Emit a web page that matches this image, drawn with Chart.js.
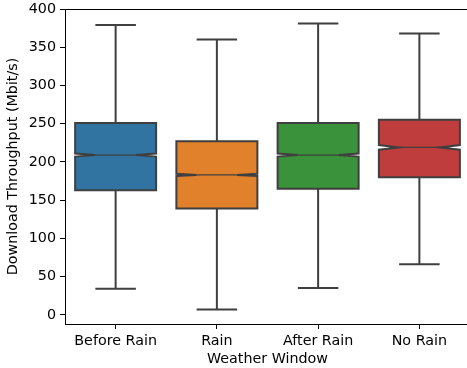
<!DOCTYPE html>
<html>
<head>
<meta charset="utf-8">
<script src="https://cdn.jsdelivr.net/npm/chart.js@4/dist/chart.umd.min.js"></script>
<style>
  body { margin: 0; background: #fff; overflow: hidden; }
  #wrap { width: 470px; height: 368px; }
</style>
</head>
<body>
<div id="wrap"><canvas id="chart" width="470" height="368"></canvas></div>
<script>
// box stats (Mbit/s)
const categories = ['Before Rain', 'Rain', 'After Rain', 'No Rain'];
const whiskerLow = [34, 7, 35, 66];
const q1 = [163, 139, 165, 180];
const median = [209, 183, 209, 219];
const q3 = [251, 227, 251, 255];
const whiskerHigh = [379, 360, 381, 368];
const ciLow = [207, 181.5, 207, 216];
const ciHigh = [211, 184.5, 211, 222];
const colors = ['#3274a1', '#e1812c', '#3a923a', '#c03d3e'];
const yTicks = [0, 50, 100, 150, 200, 250, 300, 350, 400];

const FONT = { family: 'DejaVu Sans', size: 14.3 };
const LINE = '#3f3f3f';

const boxPlot = {
  id: 'boxPlot',
  afterDatasetsDraw(chart) {
    const ctx = chart.ctx;
    const x = chart.scales.x;
    const y = chart.scales.y;
    const step = x.getPixelForValue(1) - x.getPixelForValue(0);
    const w = step * 0.8;
    ctx.save();
    ctx.strokeStyle = LINE;
    ctx.lineWidth = 2;
    categories.forEach((c, i) => {
      const cx = x.getPixelForValue(i);
      const L = cx - w / 2, R = cx + w / 2;
      const capL = cx - w / 4, capR = cx + w / 4;

      // whiskers + caps
      ctx.beginPath();
      ctx.moveTo(cx, y.getPixelForValue(q3[i]));
      ctx.lineTo(cx, y.getPixelForValue(whiskerHigh[i]));
      ctx.moveTo(capL, y.getPixelForValue(whiskerHigh[i]));
      ctx.lineTo(capR, y.getPixelForValue(whiskerHigh[i]));
      ctx.moveTo(cx, y.getPixelForValue(q1[i]));
      ctx.lineTo(cx, y.getPixelForValue(whiskerLow[i]));
      ctx.moveTo(capL, y.getPixelForValue(whiskerLow[i]));
      ctx.lineTo(capR, y.getPixelForValue(whiskerLow[i]));
      ctx.stroke();

      // notched box
      const yq1 = y.getPixelForValue(q1[i]);
      const yq3 = y.getPixelForValue(q3[i]);
      const ylo = y.getPixelForValue(ciLow[i]);
      const yhi = y.getPixelForValue(ciHigh[i]);
      const ym = y.getPixelForValue(median[i]);
      ctx.beginPath();
      ctx.moveTo(L, yq1);
      ctx.lineTo(R, yq1);
      ctx.lineTo(R, ylo);
      ctx.lineTo(capR, ym);
      ctx.lineTo(R, yhi);
      ctx.lineTo(R, yq3);
      ctx.lineTo(L, yq3);
      ctx.lineTo(L, yhi);
      ctx.lineTo(capL, ym);
      ctx.lineTo(L, ylo);
      ctx.closePath();
      ctx.fillStyle = colors[i];
      ctx.fill();
      ctx.stroke();

      // median
      ctx.save();
      ctx.lineWidth = 1.2;
      ctx.beginPath();
      ctx.moveTo(capL, ym);
      ctx.lineTo(capR, ym);
      ctx.stroke();
      ctx.restore();
    });

    // top spine
    const a = chart.chartArea;
    ctx.strokeStyle = '#000';
    ctx.lineWidth = 1;
    ctx.beginPath();
    ctx.moveTo(a.left, a.top + 0.5);
    ctx.lineTo(a.right, a.top + 0.5);
    ctx.stroke();
    ctx.restore();
  }
};

new Chart(document.getElementById('chart'), {
  type: 'bar',
  data: {
    labels: categories,
    datasets: [{
      label: 'Download Throughput',
      data: categories.map((c, i) => [q1[i], q3[i]]),
      backgroundColor: 'rgba(0,0,0,0)',
      borderWidth: 0
    }]
  },
  options: {
    responsive: false,
    animation: false,
    layout: { padding: { top: 9, right: 0, left: 0, bottom: 0 } },
    plugins: { legend: { display: false }, tooltip: { enabled: false } },
    scales: {
      x: {
        offset: true,
        grid: { offset: false, drawOnChartArea: false, drawTicks: true, tickLength: 5, color: '#000' },
        border: { display: true, color: '#000', width: 1 },
        ticks: { color: '#000', font: FONT, padding: 4, maxRotation: 0 },
        title: { display: true, text: 'Weather Window', color: '#000', font: FONT, padding: { top: 0, bottom: 0 } },
        afterFit(s) { s.height = 44; s.paddingLeft = 0; s.paddingRight = 0; }
      },
      y: {
        min: -12,
        max: 400,
        grid: { drawOnChartArea: false, drawTicks: true, tickLength: 5, color: '#000' },
        border: { display: true, color: '#000', width: 1 },
        ticks: { color: '#000', font: FONT, padding: 4 },
        afterBuildTicks(s) { s.ticks = yTicks.map(v => ({ value: v })); },
        title: { display: true, text: 'Download Throughput (Mbit/s)', color: '#000', font: FONT, padding: { top: 5, bottom: 0 } },
        afterFit(s) { s.width = 65; s.paddingTop = 0; s.paddingBottom = 0; }
      }
    }
  },
  plugins: [boxPlot]
});
</script>
</body>
</html>
